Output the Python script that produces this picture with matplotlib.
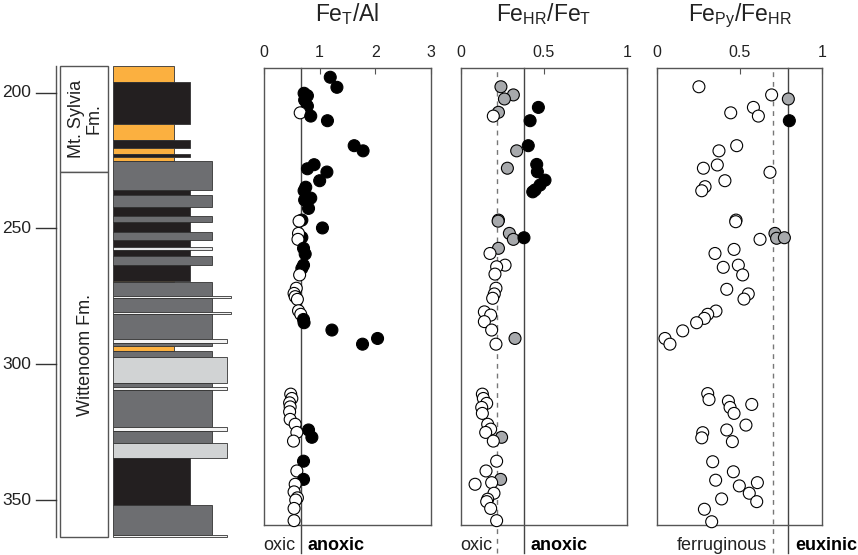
import matplotlib.pyplot as plt
from matplotlib.patches import Rectangle

plt.rcParams['font.family'] = ['Liberation Sans', 'DejaVu Sans']

# ---- stratigraphic column (depth in m) ----
lith_top = [190.2, 195.9, 211.6, 217.4, 220.5, 222.6, 223.6, 225.3, 235.8, 237.7,
            242.2, 245.4, 247.5, 251.4, 254.3, 256.9, 257.9, 260.0, 263.5, 269.2,
            269.8, 274.9, 275.7, 280.7, 281.5, 290.8, 292.3, 293.3, 295.1, 297.2,
            307.0, 308.3, 309.5, 323.2, 324.5, 328.9, 334.7, 351.9, 362.9]
lith_base = lith_top[1:] + [363.8]
lith_code = ['O', 'K', 'O', 'K', 'O', 'K', 'O', 'D', 'K', 'D',
             'K', 'D', 'K', 'D', 'K', 'S', 'K', 'D', 'K', 'O',
             'D', 'V', 'D', 'V', 'D', 'W', 'D', 'O', 'D', 'L',
             'D', 'W', 'D', 'W', 'D', 'L', 'K', 'D', 'W']

formations = ['Mt. Sylvia\nFm.', 'Wittenoom Fm.']
form_top = [190.2, 229.1]
form_base = [229.1, 363.8]
depth_ticks = [200, 250, 300, 350]

# ---- geochemistry: 0 = white, 1 = grey, 2 = black ----
feal_depth = [194.3, 198.0, 200.2, 201.1, 202.7, 204.9, 207.4, 208.6, 210.3, 219.5,
              221.4, 226.5, 228.0, 229.2, 232.4, 234.8, 236.1, 238.8, 239.5, 242.6,
              246.9, 247.3, 249.8, 253.3, 251.8, 254.0, 257.3, 259.4, 263.5, 264.7,
              267.1, 272.0, 273.9, 275.1, 276.1, 280.3, 281.6, 283.5, 284.7, 287.4,
              290.5, 292.6, 311.0, 312.6, 314.2, 315.7, 317.5, 320.3, 322.1, 324.2,
              326.9, 325.1, 328.3, 335.7, 339.3, 342.4, 344.2, 347.0, 349.2, 350.0,
              353.1, 357.6]
feal_value = [1.19, 1.31, 0.72, 0.78, 0.73, 0.78, 0.65, 0.84, 1.14, 1.62,
              1.78, 0.90, 0.78, 1.13, 1.00, 0.75, 0.72, 0.84, 0.73, 0.80,
              0.68, 0.63, 1.05, 0.68, 0.62, 0.61, 0.71, 0.74, 0.71, 0.68,
              0.64, 0.58, 0.54, 0.56, 0.60, 0.62, 0.66, 0.71, 0.72, 1.22,
              2.04, 1.77, 0.48, 0.50, 0.46, 0.47, 0.46, 0.47, 0.56, 0.80,
              0.86, 0.59, 0.53, 0.71, 0.59, 0.71, 0.56, 0.54, 0.60, 0.57,
              0.54, 0.54]
feal_class = [2, 2, 2, 2, 2, 2, 0, 2, 2, 2,
              2, 2, 2, 2, 2, 2, 2, 2, 2, 2,
              2, 0, 2, 2, 0, 0, 2, 2, 2, 2,
              0, 0, 0, 0, 0, 0, 0, 2, 2, 2,
              2, 2, 0, 0, 0, 0, 0, 0, 0, 2,
              2, 0, 0, 2, 0, 2, 0, 0, 0, 0,
              0, 0]

hr_depth = [197.8, 200.8, 202.3, 205.4, 207.2, 208.6, 210.3, 219.5, 221.4, 227.8,
            226.4, 229.1, 232.2, 234.0, 235.8, 236.5, 246.9, 247.3, 251.8, 254.0,
            253.4, 257.3, 259.2, 263.5, 264.1, 266.8, 272.0, 274.1, 275.7, 280.7,
            281.9, 284.3, 287.4, 290.5, 292.6, 311.0, 312.6, 314.4, 315.9, 318.1,
            322.1, 323.9, 325.1, 326.9, 328.3, 335.7, 339.3, 342.4, 343.6, 344.2,
            347.5, 349.7, 350.6, 353.1, 357.6]
hr_value = [0.241, 0.316, 0.262, 0.467, 0.226, 0.195, 0.417, 0.406, 0.336, 0.280,
            0.457, 0.461, 0.507, 0.477, 0.447, 0.433, 0.226, 0.224, 0.292, 0.316,
            0.380, 0.226, 0.175, 0.266, 0.215, 0.205, 0.211, 0.201, 0.191, 0.141,
            0.179, 0.141, 0.185, 0.326, 0.211, 0.129, 0.135, 0.155, 0.125, 0.129,
            0.161, 0.179, 0.149, 0.245, 0.195, 0.215, 0.151, 0.239, 0.185, 0.085,
            0.199, 0.161, 0.155, 0.179, 0.215]
hr_class = [1, 1, 1, 2, 1, 0, 2, 2, 1, 1,
            2, 2, 2, 2, 2, 2, 1, 1, 1, 1,
            2, 1, 0, 0, 0, 0, 0, 0, 0, 0,
            0, 0, 0, 1, 0, 0, 0, 0, 0, 0,
            0, 0, 0, 1, 0, 0, 0, 1, 0, 0,
            0, 0, 0, 0, 0]

py_depth = [197.8, 200.8, 202.3, 205.4, 207.4, 208.6, 210.3, 219.5, 221.4, 226.6,
            227.8, 229.3, 232.4, 234.6, 236.1, 246.9, 247.5, 251.8, 253.6, 253.4,
            254.0, 257.7, 259.2, 263.5, 264.3, 267.1, 272.4, 274.1, 276.0, 280.4,
            281.6, 283.1, 284.7, 287.7, 290.5, 292.6, 310.8, 313.0, 313.6, 314.8,
            315.9, 318.1, 322.4, 324.2, 325.2, 327.1, 328.5, 335.9, 339.6, 342.7,
            344.8, 343.6, 347.5, 350.6, 349.6, 353.4, 358.0]
py_value = [0.255, 0.694, 0.795, 0.584, 0.447, 0.614, 0.801, 0.483, 0.376, 0.366,
            0.282, 0.684, 0.412, 0.292, 0.272, 0.479, 0.477, 0.714, 0.724, 0.771,
            0.624, 0.467, 0.352, 0.493, 0.402, 0.519, 0.423, 0.553, 0.527, 0.358,
            0.308, 0.288, 0.241, 0.157, 0.050, 0.080, 0.308, 0.316, 0.433, 0.574,
            0.443, 0.467, 0.539, 0.423, 0.278, 0.272, 0.457, 0.338, 0.463, 0.356,
            0.499, 0.608, 0.559, 0.604, 0.392, 0.288, 0.332]
py_class = [0, 0, 1, 0, 0, 0, 2, 0, 0, 0,
            0, 0, 0, 0, 0, 0, 0, 1, 1, 1,
            0, 0, 0, 0, 0, 0, 0, 0, 0, 0,
            0, 0, 0, 0, 0, 0, 0, 0, 0, 0,
            0, 0, 0, 0, 0, 0, 0, 0, 0, 0,
            0, 0, 0, 0, 0, 0, 0]

# layout (pixels of the 858x555 canvas)
W, H = 858, 555
TOP_PX, BOT_PX = 68.3, 525.0
D_TOP, D_BOT = 191.0, 359.2
m_px = (D_BOT - D_TOP) / (BOT_PX - TOP_PX)

lith_style = {  # colour, right edge (px)
    'O': ('#fbb040', 174), 'K': ('#231f20', 190), 'D': ('#6d6e71', 212),
    'L': ('#d1d3d4', 227), 'W': ('#f4f4f4', 227), 'V': ('#f4f4f4', 231),
    'S': ('#e6e7e8', 212),
}
dot_colors = ['white', '#a7a9ac', 'black']
edge = '#555555'

fig = plt.figure(figsize=(W / 100, H / 100), dpi=100)

# ---- column ----
col = fig.add_axes([0, 0, 250 / W, 1])
col.set_xlim(0, 250)
col.set_ylim(D_BOT + (H - BOT_PX) * m_px, D_TOP - TOP_PX * m_px)
col.axis('off')

for t, b, c in zip(lith_top, lith_base, lith_code):
    fc, right = lith_style[c]
    col.add_patch(Rectangle((113, t), right - 113, b - t, facecolor=fc,
                            edgecolor='#333333', linewidth=0.6))

for name, t, b in zip(formations, form_top, form_base):
    col.add_patch(Rectangle((60, t), 48, b - t, facecolor='white',
                            edgecolor=edge, linewidth=1))
    col.text(85, (t + b) / 2, name, rotation=90, ha='center', va='center',
             fontsize=13, linespacing=1.0, multialignment='center', color='#222')

col.plot([55.5, 55.5], [form_top[0], form_base[-1]], color=edge, lw=1)
for d in depth_ticks:
    col.plot([36, 55.5], [d, d], color='#333', lw=1)
    col.text(31, d, str(d), ha='right', va='center', fontsize=12.5, color='#222')


def panel(left, right, xmax, ticks, ticklabels, title):
    ax = fig.add_axes([left / W, 1 - BOT_PX / H, (right - left) / W,
                       (BOT_PX - TOP_PX) / H])
    ax.set_xlim(0, xmax)
    ax.set_ylim(D_BOT, D_TOP)
    ax.set_yticks([])
    ax.set_xticks(ticks)
    ax.set_xticklabels(ticklabels)
    ax.tick_params(axis='x', direction='in', length=4, width=0.8, color=edge,
                   top=True, bottom=False, labeltop=True, labelbottom=False,
                   pad=6, labelsize=11.5, labelcolor='#222')
    for s in ax.spines.values():
        s.set_color(edge)
        s.set_linewidth(1)
    fig.text((left + right) / 2 / W, 1 - 21 / H, title, ha='center',
             va='baseline', fontsize=16.5, color='#222')
    return ax


def dots(ax, depth, value, cls):
    ax.scatter(value, depth, s=74, c=[dot_colors[k] for k in cls],
               edgecolors='black', linewidths=0.8, zorder=3, clip_on=False)


def label(ax, x, text, side, bold=False):
    ax.annotate(text, xy=(x, -0.055), xycoords=('data', 'axes fraction'),
                xytext=(-4 if side == 'left' else 5, 0), textcoords='offset points',
                ha='right' if side == 'left' else 'left', va='baseline',
                fontsize=13, fontweight='bold' if bold else 'normal',
                color='black' if bold else '#222')


ax1 = panel(264, 431, 3, [0, 1, 2, 3], ['0', '1', '2', '3'],
            r'$\mathregular{Fe_{T}/Al}$')
ax1.axvline(0.66, ymin=-0.061, ymax=1, color='#444', lw=1, clip_on=False)
dots(ax1, feal_depth, feal_value, feal_class)
label(ax1, 0.66, 'oxic', 'left')
label(ax1, 0.66, 'anoxic', 'right', bold=True)

ax2 = panel(461, 626.7, 1, [0, 0.5, 1], ['0', '0.5', '1'],
            r'$\mathregular{Fe_{HR}/Fe_{T}}$')
ax2.axvline(0.22, ymin=-0.061, ymax=1, color='#777', lw=1, dashes=(3.5, 3.5),
            clip_on=False)
ax2.axvline(0.38, ymin=-0.061, ymax=1, color='#444', lw=1, clip_on=False)
dots(ax2, hr_depth, hr_value, hr_class)
label(ax2, 0.22, 'oxic', 'left')
label(ax2, 0.38, 'anoxic', 'right', bold=True)

ax3 = panel(656.7, 822.3, 1, [0, 0.5, 1], ['0', '0.5', '1'],
            r'$\mathregular{Fe_{Py}/Fe_{HR}}$')
ax3.axvline(0.70, ymin=-0.061, ymax=1, color='#777', lw=1, dashes=(3.5, 3.5),
            clip_on=False)
ax3.axvline(0.795, ymin=-0.061, ymax=1, color='#444', lw=1, clip_on=False)
dots(ax3, py_depth, py_value, py_class)
label(ax3, 0.70, 'ferruginous', 'left')
label(ax3, 0.795, 'euxinic', 'right', bold=True)

fig.savefig('out.png', dpi=100)
